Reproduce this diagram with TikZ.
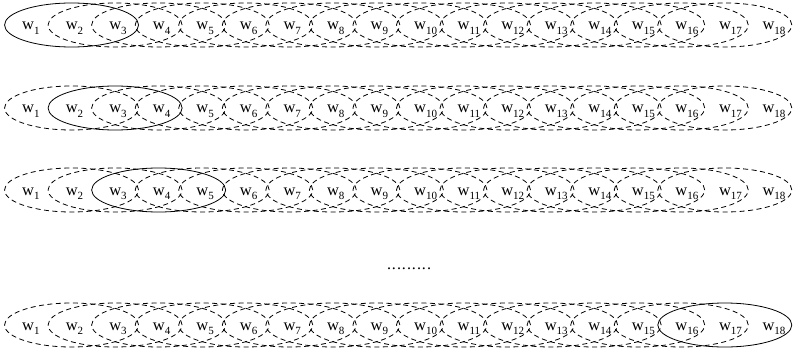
\documentclass[tikz,border=0pt]{standalone}
\usepackage{fontspec}
\setmainfont{Liberation Serif}
\usetikzlibrary{shapes.geometric}
\newcommand\wsub[1]{w\raisebox{-4.5pt}{\fontsize{11}{11}\selectfont #1}}
\tikzset{
  word/.style={anchor=base west, inner sep=0pt, font=\fontsize{16.5}{16.5}\selectfont},
  win/.style={draw, ellipse, line width=0.8pt, minimum width=134pt, minimum height=44pt, inner sep=0pt},
  windash/.style={win, dash pattern=on 5pt off 3.5pt},
  winsolid/.style={win, solid}
}
\begin{document}
\begin{tikzpicture}[x=1pt,y=-1pt]
\useasboundingbox (0,0) rectangle (797,350);
\foreach \r/\yy/\s in {1/25/1, 2/108/2, 3/190/3, 5/325/16}{
  \foreach \i in {1,...,18}{
    \node[word] (w-\r-\i) at ({28+43.55*(\i-1)-6}, \yy+5) {\wsub{\i}};
  }
  \foreach \k in {1,...,16}{
    \ifnum\k=\s
      \node[winsolid] (e-\r-\k) at ({28+43.55*\k}, \yy) {};
    \else
      \node[windash] (e-\r-\k) at ({28+43.55*\k}, \yy) {};
    \fi
  }
}
\node[font=\fontsize{16}{16}\selectfont, inner sep=0pt, anchor=base] (dots) at (409,269) {.\kern1pt.\kern1pt.\kern1pt.\kern1pt.\kern1pt.\kern1pt.\kern1pt.\kern1pt.};
\end{tikzpicture}
\end{document}
